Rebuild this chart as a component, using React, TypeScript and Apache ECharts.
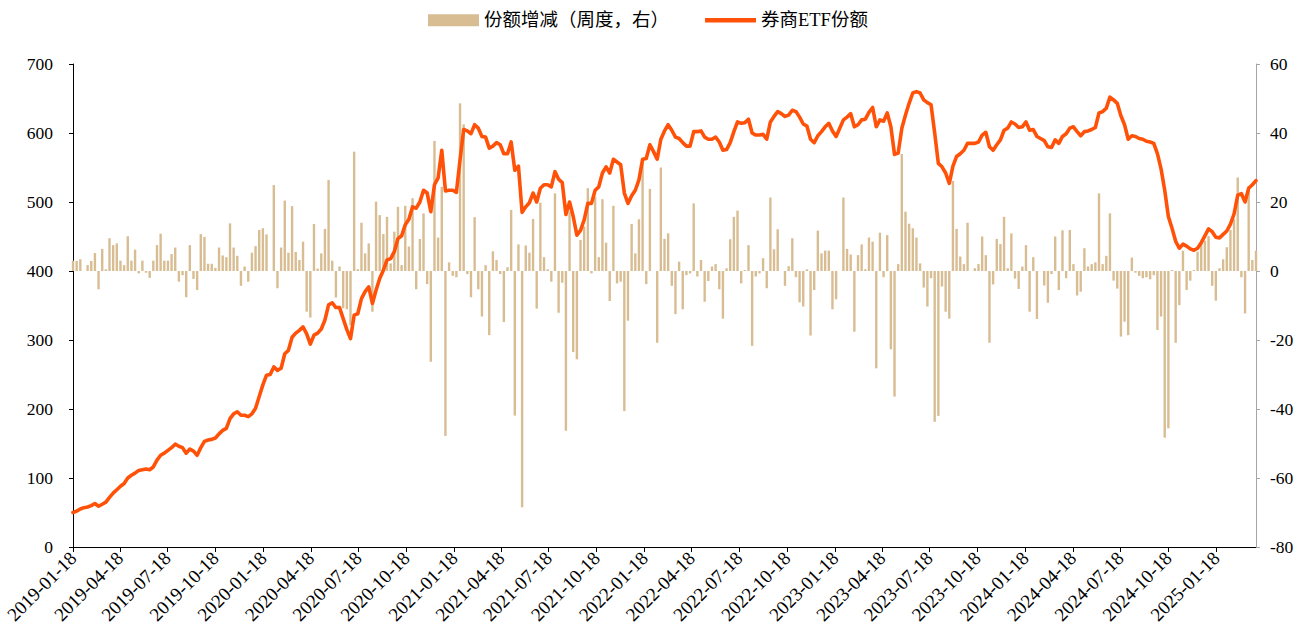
import React, { useEffect, useRef } from 'react';
import * as echarts from 'echarts';

const START_DATE = '2019-01-18';
const END_DATE = '2025-04-04';

const tickLabels = [
  '2019-01-18', '2019-04-18', '2019-07-18', '2019-10-18',
  '2020-01-18', '2020-04-18', '2020-07-18', '2020-10-18',
  '2021-01-18', '2021-04-18', '2021-07-18', '2021-10-18',
  '2022-01-18', '2022-04-18', '2022-07-18', '2022-10-18',
  '2023-01-18', '2023-04-18', '2023-07-18', '2023-10-18',
  '2024-01-18', '2024-04-18', '2024-07-18', '2024-10-18',
  '2025-01-18',
];

// 券商ETF份额 (weekly, left axis)
const etfShares = [
  50, 52, 55, 57, 58, 60, 63, 59, 62, 65,
  72, 78, 83, 88, 92, 100, 104, 107, 111, 112,
  113, 112, 116, 126, 133, 136, 140, 144, 149, 146,
  144, 136, 142, 139, 133, 144, 153, 155, 156, 158,
  164, 169, 172, 186, 193, 196, 191, 191, 189, 193,
  201, 218, 235, 249, 250, 261, 256, 259, 280, 285,
  304, 310, 314, 319, 309, 294, 307, 310, 316, 329,
  351, 354, 347, 347, 331, 315, 302, 336, 338, 360,
  370, 377, 353, 372, 389, 401, 416, 418, 428, 447,
  451, 467, 475, 493, 491, 500, 517, 513, 486, 525,
  535, 575, 516, 517, 517, 514, 561, 605, 603, 599,
  612, 607, 595, 594, 578, 581, 586, 583, 570, 570,
  587, 546, 552, 485, 493, 499, 513, 500, 520, 525,
  525, 522, 544, 533, 528, 482, 500, 479, 452, 459,
  474, 498, 498, 517, 522, 542, 551, 542, 562, 558,
  554, 513, 498, 509, 517, 532, 562, 563, 583, 573,
  562, 591, 603, 612, 604, 594, 592, 586, 581, 581,
  602, 602, 603, 594, 591, 591, 594, 587, 575, 576,
  586, 602, 616, 614, 615, 620, 600, 597, 597, 598,
  591, 616, 624, 631, 628, 624, 626, 633, 631, 623,
  613, 610, 591, 586, 596, 602, 609, 614, 603, 595,
  607, 619, 623, 628, 609, 612, 619, 620, 630, 637,
  609, 619, 617, 629, 609, 569, 571, 607, 626, 643,
  658, 660, 658, 648, 644, 641, 600, 556, 551, 542,
  527, 552, 566, 570, 575, 585, 585, 585, 587, 597,
  601, 580, 575, 583, 590, 604, 607, 616, 613, 608,
  609, 616, 604, 605, 595, 592, 589, 580, 579, 590,
  585, 595, 599, 607, 609, 602, 596, 602, 603, 605,
  608, 629, 631, 636, 652, 648, 643, 625, 612, 591,
  596, 595, 592, 591, 588, 587, 585, 570, 548, 517,
  479, 462, 443, 433, 439, 436, 432, 430, 433, 441,
  451, 461, 457, 449, 448, 453, 458, 468, 483, 510,
  512, 500, 520, 525, 531,
];

// 份额增减（周度，右）(weekly change, right axis)
const weeklyChange = [
  3, 2.9, 3.4, 0, 1.7, 2.9, 5.2, -5.3, 6.4, 0.5,
  9.5, 7.5, 8.0, 3.0, 1.7, 10.1, 3.0, 6.2, -0.7, 3.0,
  -0.5, -2.0, 3.0, 7.5, 10.8, 3.0, 3.0, 4.9, 6.8, -3.1,
  -1.2, -7.6, 7.5, -2.3, -5.5, 10.7, 9.9, 2.1, 2.1, 0.9,
  6.8, 4.5, 4.0, 13.8, 6.8, 4.4, -4.3, 1.3, -3.1, 5.3,
  7.2, 11.9, 12.4, 10.6, 0, 24.9, -5.0, 6.8, 20.4, 5.3,
  18.8, 5.5, 3.2, 8.5, -11.8, -13.5, 13.6, 0.7, 5.1, 12.2,
  26.4, 3.0, -7.7, 1.3, -10.8, -11.1, -15.7, 34.6, 0.5, 14.0,
  5.1, 8.0, -11.8, 20.1, 16.2, 10.7, 15.7, 2.2, 11.4, 18.6,
  1.7, 18.9, 7.1, 21.1, -5.3, 9.3, 16.7, -3.8, -26.3, 37.7,
  9.7, 24.4, -47.8, 2.5, -1.4, -1.8, 48.6, 42.5, -0.9, -7.6,
  15.6, -5.3, -13.2, 1.7, -18.6, 5.7, 3.2, -0.9, -14.8, 1.1,
  17.7, -41.9, 7.7, -68.5, 7.4, 5.3, 15.1, -10.9, 19.8, 4.0,
  0.5, -3.1, 22.5, -12.1, -3.4, -46.3, 17.2, -23.5, -25.6, 9.0,
  12.9, 24.0, -0.7, 21.5, 4.0, 20.8, 8.2, -8.7, 18.9, -3.6,
  -3.1, -40.6, -14.4, 13.6, 5.1, 15.0, 32.4, -3.8, 23.8, 0,
  -20.8, 30.0, 9.3, 10.9, -4.3, -12.5, 2.7, -11.1, -1.2, -0.7,
  19.6, -1.6, 3.2, -8.9, -2.9, 1.3, 2.0, -5.3, -13.8, 0.8,
  9.2, 15.7, 17.5, -3.6, 0.3, 7.5, -21.7, -1.6, -0.7, 3.7,
  -5.0, 21.3, 6.3, 12.1, 0, -4.3, 1.4, 9.5, -1.8, -9.1,
  -10.3, 0.5, -18.7, -5.5, 11.7, 5.1, 5.9, 5.9, -11.1, -8.2,
  0, 21.3, 6.4, 4.8, -17.6, 4.6, 7.7, 0.5, 9.7, 8.5,
  -28.2, 11.1, -1.8, 10.4, -22.7, -36.4, 2.0, 33.9, 17.2, 13.7,
  12.4, 9.7, 2.2, -4.8, -10.3, -2.1, -43.7, -42.0, -4.5, -11.8,
  -13.8, 26.1, 12.2, 4.2, 2.0, 14.0, 0, 0.8, 2.0, 10.0,
  4.6, -20.8, -3.9, 9.3, 7.8, 15.7, 0.8, 10.9, -2.2, -5.2,
  1.3, 7.5, -11.8, 4.0, -13.9, 0, -4.2, -9.2, -0.9, 10.0,
  -5.5, 11.8, -2.1, 11.9, 2.0, -7.1, -6.0, 6.6, 1.3, 2.0,
  2.5, 22.5, 2.0, 4.4, 16.7, -2.8, -5.1, -19.0, -14.7, -18.6,
  3.9, -0.5, -1.4, -2.1, -1.8, -2.4, -1.2, -17.1, -13.2, -48.3,
  -45.6, 0.3, -20.8, -9.9, 5.9, -5.5, -2.8, 0.3, 5.6, 8.0,
  8.8, 10.1, -4.3, -8.6, 0.8, 3.4, 6.9, 11.9, 15.0, 27.1,
  -1.8, -12.3, 24.6, 3.2, 5.9,
];

const SERIES_BAR = '份额增减（周度，右）';
const SERIES_LINE = '券商ETF份额';

const FONT = '"Times New Roman", "Liberation Serif", "Noto Sans CJK SC", serif';
const BAR_COLOR = '#D8BD93';
const LINE_COLOR = '#FF5208';

// x positions are day numbers (days since 1970-01-01, UTC)
const DAY = 86400000;
const toDay = (s: string) => Math.round(Date.parse(s + 'T00:00:00Z') / DAY);
const startDay = toDay(START_DATE);
const dates = etfShares.map((_, i) => startDay + i * 7);
const tickValues = tickLabels.map(toDay);
const dayLabel = (d: number) => {
  const idx = tickValues.indexOf(Math.round(d));
  return idx >= 0 ? tickLabels[idx] : '';
};

export default function App() {
  const ref = useRef<HTMLDivElement>(null);

  useEffect(() => {
    if (!ref.current) return;
    const chart = echarts.init(ref.current, null, { renderer: 'svg' });
    chart.setOption({
      animation: false,
      backgroundColor: '#ffffff',
      textStyle: { fontFamily: FONT },
      legend: {
        left: 423,
        top: 6,
        itemGap: 36,
        itemWidth: 51,
        itemHeight: 12,
        textStyle: { fontSize: 18.5, color: '#000', fontFamily: FONT },
        data: [
          { name: SERIES_BAR, icon: 'rect' },
          { name: SERIES_LINE, icon: 'path://M0,0 L52,0 L52,4.4 L0,4.4 Z' },
        ],
      },
      grid: { left: 73, right: 56, top: 64, bottom: 86, containLabel: false },
      xAxis: {
        type: 'value',
        min: startDay,
        max: toDay(END_DATE),
        scale: true,
        axisLine: { show: true, onZero: false, lineStyle: { color: '#000', width: 1 } },
        axisTick: {
          show: true,
          customValues: tickValues,
          length: 5,
          lineStyle: { color: '#000' },
        },
        axisLabel: {
          customValues: tickValues,
          rotate: 45,
          margin: 8,
          hideOverlap: false,
          showMinLabel: true,
          showMaxLabel: true,
          fontSize: 19,
          color: '#000',
          fontFamily: FONT,
          formatter: (v: number) => dayLabel(v),
        },
        splitLine: { show: false },
      },
      yAxis: [
        {
          type: 'value',
          min: 0,
          max: 700,
          interval: 100,
          position: 'left',
          axisLine: { show: true, lineStyle: { color: '#000', width: 1 } },
          axisTick: { show: true, inside: false, length: 4, lineStyle: { color: '#000' } },
          axisLabel: { fontSize: 17.5, color: '#000', margin: 20, fontFamily: FONT },
          splitLine: { show: false },
        },
        {
          type: 'value',
          min: -80,
          max: 60,
          interval: 20,
          position: 'right',
          axisLine: { show: true, onZero: false, lineStyle: { color: '#a6a6a6', width: 1 } },
          axisTick: { show: true, inside: false, length: 4, lineStyle: { color: '#a6a6a6' } },
          axisLabel: { fontSize: 17.5, color: '#000', margin: 14, fontFamily: FONT },
          splitLine: { show: false },
        },
      ],
      series: [
        {
          name: SERIES_BAR,
          type: 'bar',
          yAxisIndex: 1,
          barWidth: 2.4,
          itemStyle: { color: BAR_COLOR },
          data: dates.map((d, i) => [d, weeklyChange[i]]),
          z: 1,
        },
        {
          name: SERIES_LINE,
          type: 'line',
          yAxisIndex: 0,
          symbol: 'none',
          showSymbol: false,
          lineStyle: { color: LINE_COLOR, width: 3.6, join: 'round', cap: 'round' },
          itemStyle: { color: LINE_COLOR },
          data: dates.map((d, i) => [d, etfShares[i]]),
          z: 3,
        },
      ],
    });
    return () => chart.dispose();
  }, []);

  return (
    <div
      ref={ref}
      style={{ position: 'fixed', left: 0, top: 0, width: 1312, height: 633, background: '#fff' }}
    />
  );
}
